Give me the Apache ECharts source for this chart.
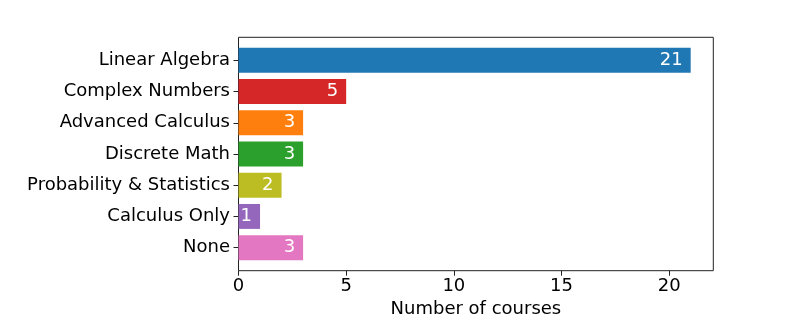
<!DOCTYPE html>
<html>
<head>
<meta charset="utf-8">
<script src="https://cdn.jsdelivr.net/npm/echarts@6/dist/echarts.min.js"></script>
<style>html,body{margin:0;padding:0;background:#fff}#c{width:792px;height:316px}</style>
</head>
<body>
<div id="c"></div>
<script>
const categories = ["Linear Algebra", "Complex Numbers", "Advanced Calculus", "Discrete Math", "Probability & Statistics", "Calculus Only", "None"];
const counts = [21, 5, 3, 3, 2, 1, 3];
const colors = ["#1f77b4", "#d62728", "#ff7f0e", "#2ca02c", "#bcbd22", "#9467bd", "#e377c2"];
const xTicks = [0, 5, 10, 15, 20];
const xName = "Number of courses";

const FONT = "DejaVu Sans";
const FS = 18;
const chart = echarts.init(document.getElementById('c'), null, {renderer: 'canvas'});
const xMax = 22.05;
chart.setOption({
  animation: false,
  grid: [
    {left: 238.5, top: 37.3, width: 474.8, height: 233.4, show: true, borderColor: '#222', borderWidth: 1, backgroundColor: 'transparent', containLabel: false, outerBoundsMode: 'none'},
    {left: 238.5, top: 44.7, width: 474.8, height: 218.6, containLabel: false, outerBoundsMode: 'none'}
  ],
  xAxis: [
    {type: 'value', gridIndex: 0, min: 0, max: xMax, interval: 5,
     axisLine: {show: false},
     axisTick: {show: true, length: 5, inside: false, lineStyle: {color: '#222', width: 1},
       customValues: xTicks},
     axisLabel: {show: true, margin: 7, fontSize: FS, fontFamily: FONT, color: '#000',
       customValues: xTicks, formatter: v => String(v)},
     splitLine: {show: false},
     name: xName, nameLocation: 'middle', nameGap: 29,
     nameTextStyle: {fontSize: FS, fontFamily: FONT, color: '#000'}},
    {type: 'value', gridIndex: 1, min: 0, max: xMax, show: false, splitLine: {show: false}}
  ],
  yAxis: [
    {type: 'value', gridIndex: 0, min: 0, max: 1, show: false, splitLine: {show: false}},
    {type: 'category', gridIndex: 1, inverse: true, data: categories,
     axisLine: {show: false},
     axisTick: {show: true, alignWithLabel: true, length: 5, inside: false, lineStyle: {color: '#222', width: 1}},
     axisLabel: {margin: 8.5, fontSize: FS, fontFamily: FONT, color: '#000', padding: [3, 0, 0, 0]},
     splitLine: {show: false}}
  ],
  series: [{
    type: 'bar', xAxisIndex: 1, yAxisIndex: 1,
    barWidth: 24.9,
    data: counts.map((v, i) => ({value: v, itemStyle: {color: colors[i]}})),
    label: {show: true, position: 'insideRight', distance: 8, color: '#fff', fontSize: FS, fontFamily: FONT}
  }]
});
</script>
</body>
</html>
